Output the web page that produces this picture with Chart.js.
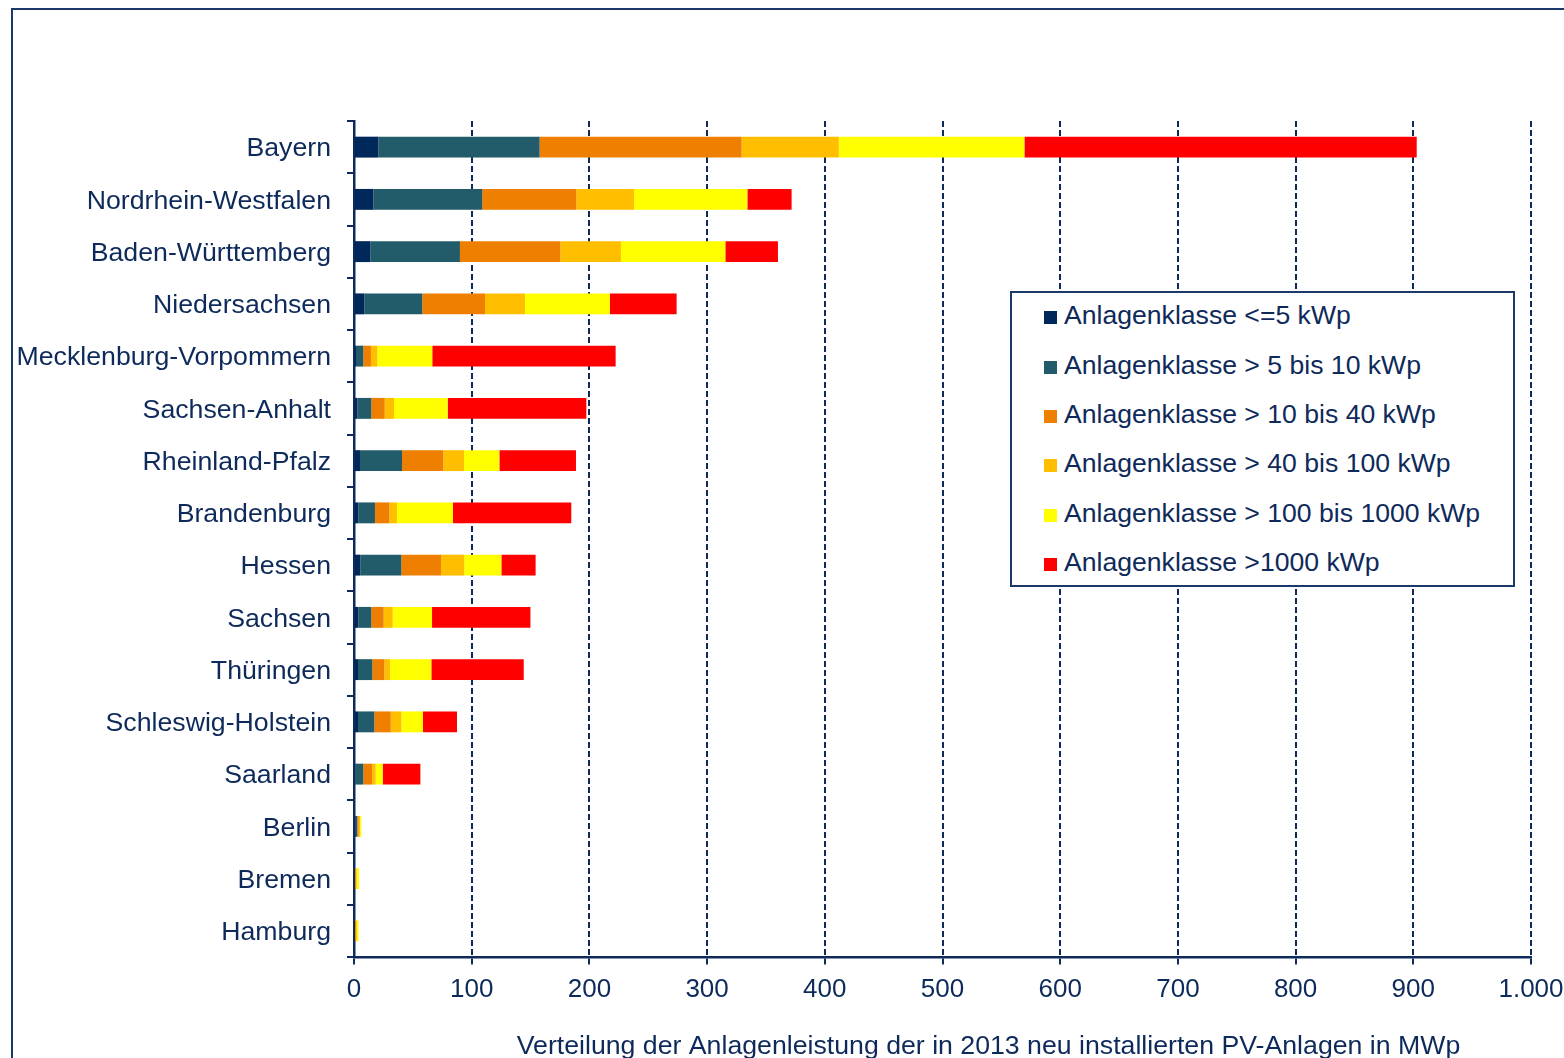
<!DOCTYPE html>
<html>
<head>
<meta charset="utf-8">
<script src="https://cdn.jsdelivr.net/npm/chart.js@4"></script>
<style>
  body { margin: 0; overflow: hidden; background: #fff; }
  #frame { position: absolute; left: 11px; top: 8px; width: 1600px; height: 1100px; border: 2px solid #1B3A6B; box-sizing: border-box; }
  #wrap { position: absolute; left: 0; top: 0; width: 1564px; height: 1058px; }
  #legend { position: absolute; left: 1010px; top: 291px; width: 505px; height: 296px; border: 2px solid #1B3A6B; box-sizing: border-box; background: #fff; font-family: "Liberation Sans", Arial, sans-serif; font-size: 26.6px; color: #0E2A5A; }
  #legend .item { height: 49.4px; display: flex; align-items: center; padding-left: 32px; white-space: nowrap; }
  #legend .item span:last-child { position: relative; top: -2px; }
  #legend .box { width: 13px; height: 13px; margin-right: 7px; }
</style>
</head>
<body>
<div id="frame"></div>
<div id="wrap"><canvas id="barChart"></canvas></div>
<div id="legend"></div>
<script>
// Bundeslaender, top to bottom
const states = ['Bayern', 'Nordrhein-Westfalen', 'Baden-Württemberg', 'Niedersachsen', 'Mecklenburg-Vorpommern',
    'Sachsen-Anhalt', 'Rheinland-Pfalz', 'Brandenburg', 'Hessen', 'Sachsen', 'Thüringen',
    'Schleswig-Holstein', 'Saarland', 'Berlin', 'Bremen', 'Hamburg'];

// MWp per Anlagenklasse
const upTo5 =       [20.7, 16.4, 13.9, 8.8, 1.7, 2.8, 5.1, 3.7, 5.4, 3.7, 3.4, 3.4, 1.1, 1.4, 0.2, 0.2];
const from5to10 =   [137.0, 92.6, 76.1, 49.2, 6.2, 11.9, 35.7, 14.1, 34.8, 11.0, 12.2, 13.9, 6.8, 1.4, 0.5, 0.4];
const from10to40 =  [171.6, 79.9, 85.3, 53.3, 6.5, 11.4, 35.1, 12.2, 33.7, 10.5, 10.2, 13.9, 7.4, 1.2, 0.8, 1.0];
const from40to100 = [82.6, 49.0, 51.5, 34.0, 5.4, 7.9, 17.6, 6.5, 19.8, 7.7, 4.8, 9.0, 3.1, 1.1, 0.8, 0.8];
const from100to1000 = [157.7, 96.3, 88.7, 72.2, 46.7, 45.6, 30.0, 47.6, 31.5, 33.4, 35.1, 18.4, 6.0, 1.1, 2.0, 1.5];
const over1000 =    [333.3, 37.6, 44.7, 56.6, 155.8, 117.8, 65.1, 100.5, 29.1, 83.6, 78.5, 28.9, 32.0, 0, 0, 0];

const classLabels = ['Anlagenklasse <=5 kWp', 'Anlagenklasse > 5 bis 10 kWp', 'Anlagenklasse > 10 bis 40 kWp',
    'Anlagenklasse > 40 bis 100 kWp', 'Anlagenklasse > 100 bis 1000 kWp', 'Anlagenklasse >1000 kWp'];
const classColors = ['#00285A', '#225B69', '#EE7F00', '#FFBF00', '#FFFF00', '#FF0000'];
const classData = [upTo5, from5to10, from10to40, from40to100, from100to1000, over1000];

const navy = '#0E2A5A';
const fontFamily = '"Liberation Sans", Arial, sans-serif';

// axis title drawn below tick labels
const axisTitle = {
    id: 'axisTitle',
    afterDraw(chart) {
        const ctx = chart.ctx;
        const area = chart.chartArea;
        ctx.save();
        ctx.font = '26.7px ' + fontFamily;
        ctx.fillStyle = navy;
        ctx.textAlign = 'center';
        ctx.textBaseline = 'middle';
        ctx.fillText('Verteilung der Anlagenleistung der in 2013 neu installierten PV-Anlagen in MWp',
            (area.left + area.right) / 2 + 46, area.bottom + 90);
        ctx.restore();
    }
};

const chart = new Chart(document.getElementById('barChart'), {
    type: 'bar',
    data: {
        labels: states,
        datasets: classData.map((values, i) => ({
            label: classLabels[i],
            data: values,
            backgroundColor: classColors[i],
            borderWidth: 0,
            categoryPercentage: 1,
            barPercentage: 0.4
        }))
    },
    options: {
        indexAxis: 'y',
        responsive: true,
        maintainAspectRatio: false,
        animation: false,
        layout: { padding: { left: 0, top: 121, right: 33, bottom: 0 } },
        plugins: {
            legend: { display: false },
            tooltip: { enabled: false }
        },
        scales: {
            x: {
                stacked: true,
                min: 0,
                max: 1000,
                ticks: {
                    stepSize: 100,
                    color: navy,
                    font: { family: fontFamily, size: 26 },
                    padding: 9,
                    callback: v => v.toLocaleString('de-DE')
                },
                grid: {
                    color: navy,
                    lineWidth: 2,
                    tickLength: 8,
                    tickBorderDash: [6, 3]
                },
                border: { color: navy, width: 2.5, dash: [6, 3] },
                afterFit: scale => {
                    scale.height = 101;
                    scale.paddingLeft = 0;
                    scale.paddingRight = 0;
                }
            },
            y: {
                stacked: true,
                ticks: {
                    color: navy,
                    font: { family: fontFamily, size: 26.7 },
                    padding: 16,
                    labelOffset: 2
                },
                grid: {
                    color: navy,
                    lineWidth: 2,
                    drawOnChartArea: false,
                    tickLength: 7
                },
                border: { color: navy, width: 2.5 },
                afterFit: scale => {
                    scale.width = 354;
                    scale.paddingTop = 0;
                    scale.paddingBottom = 0;
                }
            }
        }
    },
    plugins: [axisTitle]
});

// legend in a box, built from the datasets
const legendEl = document.getElementById('legend');
chart.data.datasets.forEach(ds => {
    const item = document.createElement('div');
    item.className = 'item';
    const box = document.createElement('span');
    box.className = 'box';
    box.style.background = ds.backgroundColor;
    const txt = document.createElement('span');
    txt.textContent = ds.label;
    item.appendChild(box);
    item.appendChild(txt);
    legendEl.appendChild(item);
});
</script>
</body>
</html>
